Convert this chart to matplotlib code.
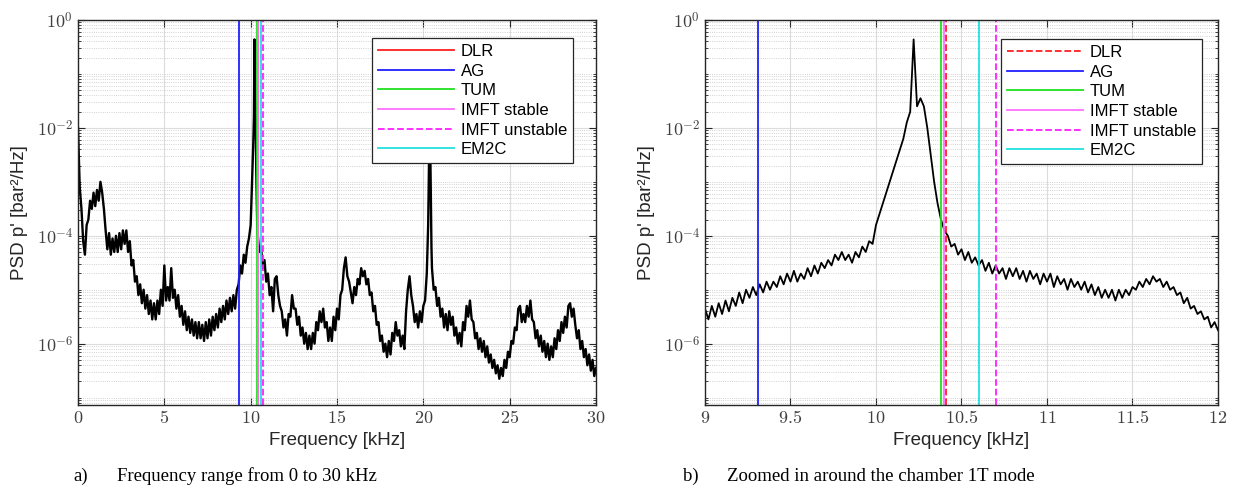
import numpy as np
import matplotlib.pyplot as plt
from matplotlib.ticker import FixedLocator, FuncFormatter, NullFormatter

plt.rcParams['mathtext.fontset'] = 'cm'
plt.rcParams['font.family'] = ['Liberation Sans', 'DejaVu Sans']

# ---- spectrum a) 0..30 kHz, log10(PSD) ----
fa_low = np.arange(0, 10.0, 0.1)
pa_low = [-2.0, -3.1, -3.5, -4.1, -4.35, -3.8, -3.7, -3.35, -3.5, -3.2,
          -3.45, -3.15, -3.35, -3.0, -3.2, -3.5, -3.9, -4.25, -3.95, -4.35,
          -4.05, -4.3, -4.0, -4.3, -3.95, -4.25, -3.9, -4.15, -3.9, -4.3,
          -4.1, -4.55, -4.45, -4.85, -4.75, -5.1, -4.9, -5.25, -5.0, -5.35,
          -5.1, -5.45, -5.2, -5.55, -5.25, -5.55, -5.2, -5.45, -5.0, -5.3,
          -4.55, -5.2, -4.95, -5.2, -4.6, -5.15, -5.0, -5.35, -5.1, -5.5,
          -5.3, -5.65, -5.4, -5.75, -5.5, -5.8, -5.55, -5.85, -5.6, -5.9,
          -5.6, -5.9, -5.65, -5.95, -5.6, -5.9, -5.55, -5.85, -5.5, -5.75,
          -5.45, -5.7, -5.35, -5.6, -5.3, -5.55, -5.2, -5.45, -5.15, -5.4,
          -5.1, -5.35, -5.0, -4.9, -4.55, -4.7, -4.35, -4.5, -4.2, -4.05]
fa_pk1 = [10.0, 10.05, 10.1, 10.15, 10.19, 10.22, 10.25, 10.29, 10.32, 10.35, 10.38]
pa_pk1 = [-3.8, -3.3, -2.8, -2.3, -1.8, -0.36, -1.5, -1.8, -2.7, -3.3, -3.8]
fa_mid = np.arange(10.4, 20.25, 0.1)
pa_mid = [-3.95, -4.3, -4.2, -4.6, -4.45, -4.85,
          -4.7, -5.1, -4.95, -5.4, -4.8, -4.75, -5.1, -5.3, -5.4, -5.7,
          -5.55, -5.85, -5.45, -5.5, -5.1, -5.35, -5.35, -5.65, -5.5, -5.85,
          -5.7, -6.0, -5.8, -6.1, -5.85, -6.1, -5.8, -6.0, -5.6, -5.75,
          -5.4, -5.6, -5.35, -5.7, -5.6, -5.95, -5.7, -5.95, -5.5, -5.75,
          -5.35, -5.55, -5.1, -5.0, -4.6, -4.4, -4.75, -4.85, -5.05, -5.25,
          -4.95, -5.1, -4.8, -4.9, -4.6, -4.75, -4.65, -4.9, -4.8, -5.1,
          -5.05, -5.4, -5.3, -5.65, -5.6, -5.95, -5.85, -6.15, -6.0, -6.25,
          -5.95, -6.2, -5.8, -5.95, -5.6, -5.85, -5.75, -6.05, -5.85, -6.1,
          -5.4, -5.0, -4.75, -5.1, -5.3, -5.6, -5.45, -5.7, -5.4, -5.6,
          -5.3, -5.2, -4.7]
fa_pk2 = [20.28, 20.33, 20.38, 20.42, 20.47]
pa_pk2 = [-3.8, -2.6, -1.8, -2.9, -4.2]
fa_high = np.arange(20.5, 30.05, 0.1)
pa_high = [-4.6, -5.0, -4.95, -5.3, -5.15,
           -5.5, -5.35, -5.7, -5.45, -5.75, -5.4, -5.65, -5.5, -5.85, -5.7,
           -6.0, -5.8, -6.05, -5.6, -5.75, -5.3, -5.5, -5.2, -5.55, -5.6,
           -5.9, -5.8, -6.1, -5.9, -6.15, -5.95, -6.25, -6.05, -6.35, -6.2,
           -6.45, -6.3, -6.55, -6.4, -6.65, -6.45, -6.6, -6.3, -6.45, -6.15,
           -6.25, -5.95, -6.0, -5.7, -5.75, -5.35, -5.3, -5.6, -5.45, -5.6,
           -5.3, -5.5, -5.2, -5.55, -5.6, -5.9, -5.75, -6.05, -5.85, -6.15,
           -5.95, -6.25, -6.0, -6.3, -6.05, -6.25, -5.9, -6.1, -5.75, -5.95,
           -5.6, -5.8, -5.5, -5.7, -5.3, -5.25, -5.5, -5.35, -5.65, -5.9,
           -5.75, -6.1, -5.95, -6.25, -6.1, -6.4, -6.2, -6.5, -6.3, -6.6,
           -6.45]

freq_a = np.concatenate([fa_low, fa_pk1, fa_mid, fa_pk2, fa_high])
psd_a = 10.0 ** np.array(pa_low + pa_pk1 + pa_mid + pa_pk2 + pa_high)

# ---- spectrum b) 9..12 kHz, step 0.02 kHz ----
freq_b = np.linspace(9, 12, 151)
pb = [-5.35, -5.55, -5.3, -5.5, -5.25, -5.45, -5.2, -5.4, -5.15, -5.3,
      -5.05, -5.25, -5.0, -5.15, -4.95, -5.1, -4.9, -5.05, -4.85, -5.0,
      -4.85, -4.95, -4.75, -4.9, -4.7, -4.85, -4.65, -4.85, -4.7, -4.8,
      -4.6, -4.75, -4.55, -4.7, -4.5, -4.6, -4.45, -4.55, -4.35, -4.45,
      -4.3, -4.45, -4.35, -4.5, -4.3, -4.4, -4.2, -4.3, -4.1, -4.15,
      -3.8, -3.6, -3.4, -3.2, -3.0, -2.8, -2.6, -2.4, -2.2, -1.9,
      -1.7, -0.36, -1.6, -1.45, -1.6, -2.0, -2.5, -3.0, -3.4, -3.7,
      -3.9, -4.0, -4.2, -4.15, -4.35, -4.25, -4.45, -4.3, -4.5, -4.4,
      -4.55, -4.45, -4.65, -4.5, -4.7, -4.55, -4.7, -4.6, -4.8, -4.6,
      -4.75, -4.6, -4.8, -4.65, -4.85, -4.65, -4.8, -4.7, -4.9, -4.7,
      -4.85, -4.7, -4.95, -4.75, -4.9, -4.8, -5.0, -4.8, -4.95, -4.85,
      -5.0, -4.85, -5.05, -4.9, -5.1, -4.95, -5.15, -5.0, -5.15, -5.0,
      -5.2, -5.0, -5.15, -5.0, -5.1, -4.95, -5.0, -4.85, -4.95, -4.8,
      -4.9, -4.75, -4.85, -4.8, -4.95, -4.85, -5.0, -4.95, -5.1, -5.05,
      -5.25, -5.15, -5.35, -5.3, -5.45, -5.4, -5.55, -5.5, -5.7, -5.6,
      -5.75]
psd_b = 10.0 ** np.array(pb)

# predicted mode frequencies [kHz]
labels = ['DLR', 'AG', 'TUM', 'IMFT stable', 'IMFT unstable', 'EM2C']
mode_f = [10.41, 9.31, 10.38, 10.40, 10.70, 10.60]
colors = ['#ff2020', '#2020ff', '#20e020', '#ff70ff', '#ff20ff', '#20e0e0']
styles_a = ['-', '-', '-', '-', '--', '-']
styles_b = ['--', '-', '-', '-', '--', '-']

fig = plt.figure(figsize=(12.35, 4.98), dpi=100)
W, H = 1235, 498
ax1 = fig.add_axes([78 / W, 1 - 405 / H, 518 / W, 385 / H])
ax2 = fig.add_axes([705 / W, 1 - 405 / H, 513 / W, 385 / H])


def style(ax, xlim, xticks):
    ax.set_yscale('log')
    ax.set_xlim(*xlim)
    ax.set_ylim(7.3e-8, 1)
    ax.set_xticks(xticks)
    ax.yaxis.set_major_locator(FixedLocator([1e-6, 1e-4, 1e-2, 1]))
    minor = [m * 10.0 ** e for e in range(-8, 1) for m in range(1, 10)
             if not (m == 1 and e % 2 == 0)]
    ax.yaxis.set_minor_locator(FixedLocator(minor))
    ax.yaxis.set_minor_formatter(NullFormatter())
    ax.yaxis.set_major_formatter(
        FuncFormatter(lambda v, p: r'$10^{%d}$' % round(np.log10(v))))
    ax.xaxis.set_major_formatter(FuncFormatter(lambda v, p: '$%g$' % v))
    ax.grid(which='major', color='#dcdcdc', lw=0.8, ls='-')
    ax.grid(which='minor', axis='y', color='#c4c4c4', lw=0.6, ls=':')
    ax.tick_params(which='both', direction='in', top=True, right=True,
                   colors='#262626', labelcolor='#404040', labelsize=13)
    ax.tick_params(which='major', length=5)
    ax.tick_params(which='minor', length=2.5)
    for s in ax.spines.values():
        s.set_color('#262626')
        s.set_linewidth(1.0)
    ax.set_xlabel('Frequency [kHz]', fontsize=13.5, color='#262626', labelpad=4)
    ax.set_ylabel("PSD p' [bar²/Hz]", fontsize=13.5, color='#262626', labelpad=6)
    ax.set_axisbelow(True)


ax1.plot(freq_a, psd_a, color='black', lw=1.7)
for lab, f, c, ls in zip(labels, mode_f, colors, styles_a):
    ax1.axvline(f, color=c, ls=ls, lw=1.3, label=lab)
style(ax1, (0, 30), [0, 5, 10, 15, 20, 25, 30])

ax2.plot(freq_b, psd_b, color='black', lw=1.3)
for lab, f, c, ls in zip(labels, mode_f, colors, styles_b):
    ax2.axvline(f, color=c, ls=ls, lw=1.3, label=lab)
style(ax2, (9, 12), [9, 9.5, 10, 10.5, 11, 11.5, 12])

for ax, anchor in [(ax1, ((573 - 78) / 518, (405 - 38) / 385)),
                   (ax2, ((1202 - 705) / 513, (405 - 39) / 385))]:
    leg = ax.legend(loc='upper right', bbox_to_anchor=anchor, fontsize=12,
                    handlelength=4.6, handletextpad=0.4, labelspacing=0.28,
                    borderpad=0.35, borderaxespad=0, fancybox=False,
                    framealpha=1, edgecolor='#262626')
    leg.get_frame().set_linewidth(0.9)

cap = dict(fontsize=13.5, family='Liberation Serif', va='center')
fig.text(73 / W, 1 - 476 / H, 'a)', **cap)
fig.text(117 / W, 1 - 476 / H, 'Frequency range from 0 to 30 kHz', **cap)
fig.text(683 / W, 1 - 476 / H, 'b)', **cap)
fig.text(727 / W, 1 - 476 / H, 'Zoomed in around the chamber 1T mode', **cap)

fig.savefig('out.png', dpi=100)
